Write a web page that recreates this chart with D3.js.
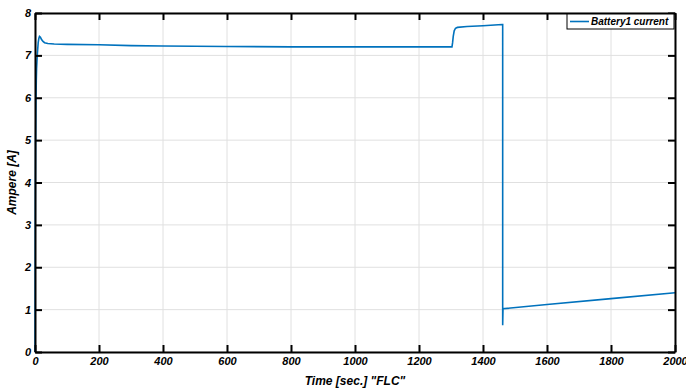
<!DOCTYPE html>
<html><head><meta charset="utf-8">
<script src="https://cdn.jsdelivr.net/npm/d3@7"></script>
<style>body{margin:0;background:#fff;}svg{display:block;font-family:"Liberation Sans",Arial,sans-serif;}</style>
</head><body><div id="chart"></div>
<script>
const timeSec = [0,0.5,1,2,3,4,5,7,10,12,14,17,20,25,30,40,60,100,200,300,400,600,800,1000,1200,1303,1305,1307,1310,1314,1320,1350,1400,1460,1461.5,1461.5,1462.5,1600,1800,2000];
const current = [0,2.0,3.5,5.0,5.9,6.4,6.7,7.0,7.3,7.4,7.45,7.43,7.38,7.33,7.3,7.28,7.27,7.26,7.25,7.23,7.22,7.21,7.2,7.2,7.2,7.2,7.3,7.45,7.58,7.64,7.66,7.68,7.7,7.73,7.73,0.63,1.02,1.12,1.26,1.40];
const xTicks = [0,200,400,600,800,1000,1200,1400,1600,1800,2000];
const yTicks = [0,1,2,3,4,5,6,7,8];
const seriesName = "Battery1 current";

const W=686,H=389, m={l:35,r:11,t:13,b:37};
const svg=d3.select("#chart").append("svg").attr("width",W).attr("height",H);
const x=d3.scaleLinear().domain([0,2000]).range([m.l,W-m.r]);
const y=d3.scaleLinear().domain([0,8]).range([H-m.b,m.t]);
const g=svg.append("g");
// grid
g.selectAll(".gx").data(xTicks).join("line").attr("x1",d=>x(d)).attr("x2",d=>x(d)).attr("y1",y(0)).attr("y2",y(8)).attr("stroke","#e0e0e0").attr("stroke-width",1);
g.selectAll(".gy").data(yTicks).join("line").attr("y1",d=>y(d)).attr("y2",d=>y(d)).attr("x1",x(0)).attr("x2",x(2000)).attr("stroke","#e0e0e0").attr("stroke-width",1);
// line
const line=d3.line().x((d,i)=>x(timeSec[i])).y((d,i)=>y(current[i]));
svg.append("path").datum(current).attr("d",line).attr("fill","none").attr("stroke","#0072BD").attr("stroke-width",1.6);
// axes
const tl=-7;
svg.append("g").attr("transform",`translate(0,${y(0)})`).call(d3.axisBottom(x).tickValues(xTicks).tickSizeInner(tl).tickSizeOuter(0).tickPadding(5).tickFormat(d3.format("d")));
svg.append("g").attr("transform",`translate(0,${y(8)})`).call(d3.axisTop(x).tickValues(xTicks).tickSizeInner(tl).tickSizeOuter(0).tickFormat(""));
svg.append("g").attr("transform",`translate(${x(0)},0)`).call(d3.axisLeft(y).tickValues(yTicks).tickSizeInner(tl).tickSizeOuter(0).tickPadding(4).tickFormat(d3.format("d")));
svg.append("g").attr("transform",`translate(${x(2000)},0)`).call(d3.axisRight(y).tickValues(yTicks).tickSizeInner(tl).tickSizeOuter(0).tickFormat(""));
svg.selectAll(".domain").attr("stroke","#000").attr("stroke-width",2);
svg.selectAll(".tick line").attr("stroke","#000").attr("stroke-width",2);
svg.selectAll(".tick text").attr("font-size",11).attr("font-weight","bold").attr("font-style","italic").attr("fill","#000").attr("font-family","Liberation Sans, Arial, sans-serif");
// axis labels
svg.append("text").attr("x",(x(0)+x(2000))/2).attr("y",385).attr("text-anchor","middle").attr("font-size",12).attr("font-weight","bold").attr("font-style","italic").text('Time [sec.] "FLC"');
svg.append("text").attr("transform",`translate(16,${(y(0)+y(8))/2}) rotate(-90)`).attr("text-anchor","middle").attr("font-size",12).attr("font-weight","bold").attr("font-style","italic").text("Ampere [A]");
// legend
const lx=567, ly=14, lw=107, lh=15;
svg.append("rect").attr("x",lx).attr("y",ly).attr("width",lw).attr("height",lh).attr("fill","#fff").attr("stroke","#000").attr("stroke-width",1);
svg.append("line").attr("x1",lx+3).attr("x2",lx+22).attr("y1",ly+lh/2).attr("y2",ly+lh/2).attr("stroke","#0072BD").attr("stroke-width",1.6);
svg.append("text").attr("x",lx+24).attr("y",ly+lh/2+3.5).attr("font-size",10).attr("font-weight","bold").attr("font-style","italic").text(seriesName);
</script></body></html>
